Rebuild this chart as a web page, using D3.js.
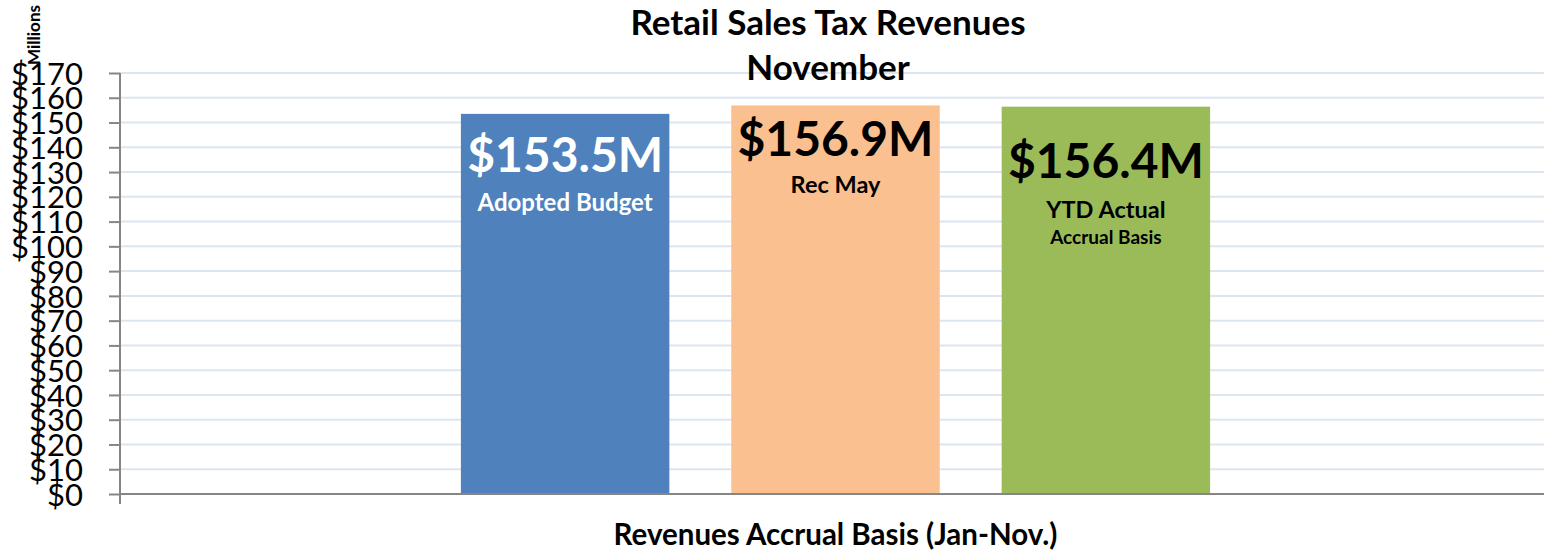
<!DOCTYPE html>
<html>
<head>
<meta charset="utf-8">
<script src="https://cdn.jsdelivr.net/npm/d3@7"></script>
<style>
  body { margin: 0; background: #fff; }
  svg { display: block; font-family: Lato, "Open Sans", sans-serif; }
</style>
</head>
<body>
<svg id="chart" width="1544" height="553"></svg>
<script>
// chart data
const category = "Revenues Accrual Basis (Jan-Nov.)";
const seriesNames = ["Adopted Budget", "Rec May", "YTD Actual"];
const seriesSub = ["", "", "Accrual Basis"];
const values = [153.5, 156.9, 156.4];
const valueLabels = ["$153.5M", "$156.9M", "$156.4M"];
const colors = ["#4f81bd", "#fac090", "#9bbb59"];
const labelColors = ["#fff", "#000", "#000"];
const yTicks = d3.range(0, 171, 10);

const svg = d3.select("#chart");
const margin = { top: 73, right: 0, bottom: 59, left: 120 };
const width = 1551 - margin.left - margin.right;
const height = 553 - margin.top - margin.bottom;

const g = svg.append("g").attr("transform", `translate(${margin.left},${margin.top})`);

const y = d3.scaleLinear().domain([0, 170]).range([height, 0]);
const x0 = d3.scaleBand().domain([category]).range([0, width]).paddingInner(0).paddingOuter(0.455);
const x1 = d3.scaleBand().domain(seriesNames).range([0, x0.bandwidth()]).paddingInner(0.229).paddingOuter(0);

// gridlines
g.append("g")
  .selectAll("line")
  .data(yTicks.filter(d => d > 0))
  .join("line")
  .attr("x1", 0).attr("x2", width)
  .attr("y1", d => y(d)).attr("y2", d => y(d))
  .attr("stroke", "#dce6f2")
  .attr("stroke-width", 2);

// bars
const bars = g.append("g").attr("transform", `translate(${x0(category)},0)`);
bars.selectAll("rect")
  .data(values)
  .join("rect")
  .attr("x", (d, i) => x1(seriesNames[i]))
  .attr("y", d => y(d))
  .attr("width", x1.bandwidth())
  .attr("height", d => height - y(d))
  .attr("fill", (d, i) => colors[i]);

// labels in bars: offsets below bar top
const labelOffsets = [[58, 97, null], [51, 88, null], [71, 111, 137]];
values.forEach((v, i) => {
  const cx = x1(seriesNames[i]) + x1.bandwidth() / 2;
  const top = y(v);
  const [o1, o2, o3] = labelOffsets[i];
  bars.append("text")
    .attr("x", cx).attr("y", top + o1)
    .attr("text-anchor", "middle")
    .attr("font-weight", "bold").attr("font-size", 48)
    .attr("fill", labelColors[i])
    .text(valueLabels[i]);
  bars.append("text")
    .attr("x", cx).attr("y", top + o2)
    .attr("text-anchor", "middle")
    .attr("font-weight", "bold").attr("font-size", i === 0 ? 24 : 23.5)
    .attr("fill", labelColors[i])
    .text(seriesNames[i]);
  if (o3) {
    bars.append("text")
      .attr("x", cx).attr("y", top + o3)
      .attr("text-anchor", "middle")
      .attr("font-weight", "bold").attr("font-size", 19)
      .attr("fill", labelColors[i])
      .text(seriesSub[i]);
  }
});

// y axis
const yAxis = g.append("g")
  .call(d3.axisLeft(y).tickValues(yTicks).tickFormat(d => "$" + d).tickSize(11).tickPadding(26));
yAxis.select(".domain").attr("stroke", "#868686").attr("stroke-width", 2)
  .attr("d", `M0,0V${height + 10}`);
yAxis.selectAll(".tick line").attr("stroke", "#868686").attr("stroke-width", 2);
yAxis.selectAll(".tick text")
  .attr("font-size", 31).attr("fill", "#000")
  .attr("font-family", "Lato, sans-serif")
  .attr("dy", "0.36em");

// x axis line
g.append("line")
  .attr("x1", 0).attr("x2", width)
  .attr("y1", height).attr("y2", height)
  .attr("stroke", "#868686").attr("stroke-width", 2);

// title
svg.append("text")
  .attr("x", 828).attr("y", 35)
  .attr("text-anchor", "middle")
  .attr("font-weight", "bold").attr("font-size", 35)
  .text("Retail Sales Tax Revenues");
svg.append("text")
  .attr("x", 828).attr("y", 80)
  .attr("text-anchor", "middle")
  .attr("font-weight", "bold").attr("font-size", 35)
  .text("November");

// y axis title
svg.append("text")
  .attr("transform", "translate(40,35) rotate(-90)")
  .attr("text-anchor", "middle")
  .attr("font-weight", "bold").attr("font-size", 17)
  .text("Millions");

// x axis title
svg.append("text")
  .attr("x", margin.left + x0(category) + x0.bandwidth() / 2).attr("y", 545)
  .attr("text-anchor", "middle")
  .attr("font-weight", "bold").attr("font-size", 29.5)
  .text(category);
</script>
</body>
</html>
